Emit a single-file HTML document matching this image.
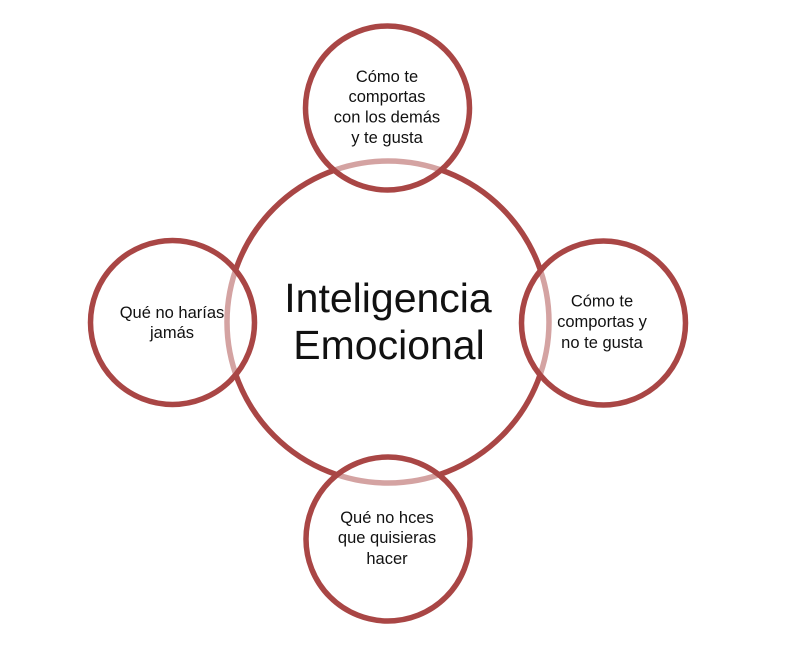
<!DOCTYPE html>
<html>
<head>
<meta charset="utf-8">
<style>
  html, body { margin: 0; padding: 0; background: #ffffff; }
  svg { display: block; }
  text { font-family: "Liberation Sans", "DejaVu Sans", sans-serif; fill: #111; }
</style>
</head>
<body>
<svg width="808" height="655" viewBox="0 0 808 655" xmlns="http://www.w3.org/2000/svg">
  <rect width="808" height="655" fill="#ffffff"/>
  <!-- central circle -->
  <circle cx="388" cy="322" r="161" fill="#ffffff" stroke="#A94645" stroke-width="5.5"/>
  <!-- satellite circles (semi-transparent white fill) -->
  <circle cx="387.5" cy="108" r="82" fill="#ffffff" fill-opacity="0.5" stroke="#A94645" stroke-width="5.5"/>
  <circle cx="172.5" cy="322.5" r="82" fill="#ffffff" fill-opacity="0.5" stroke="#A94645" stroke-width="5.5"/>
  <circle cx="603.5" cy="323" r="82" fill="#ffffff" fill-opacity="0.5" stroke="#A94645" stroke-width="5.5"/>
  <circle cx="388" cy="539" r="82" fill="#ffffff" fill-opacity="0.5" stroke="#A94645" stroke-width="5.5"/>

  <!-- center text -->
  <text x="388" y="312" font-size="41" text-anchor="middle">Inteligencia</text>
  <text x="389" y="359" font-size="41" text-anchor="middle">Emocional</text>

  <!-- top -->
  <g font-size="16.5" text-anchor="middle">
    <text x="387" y="82">Cómo te</text>
    <text x="387" y="102">comportas</text>
    <text x="387" y="122.5">con los demás</text>
    <text x="387" y="143">y te gusta</text>
  </g>
  <!-- left -->
  <g font-size="16.5" text-anchor="middle">
    <text x="172" y="318">Qué no harías</text>
    <text x="172" y="338">jamás</text>
  </g>
  <!-- right -->
  <g font-size="16.5" text-anchor="middle">
    <text x="602" y="306.5">Cómo te</text>
    <text x="602" y="327">comportas y</text>
    <text x="602" y="348">no te gusta</text>
  </g>
  <!-- bottom -->
  <g font-size="16.5" text-anchor="middle">
    <text x="387" y="523">Qué no hces</text>
    <text x="387" y="543">que quisieras</text>
    <text x="387" y="564">hacer</text>
  </g>
</svg>
</body>
</html>
